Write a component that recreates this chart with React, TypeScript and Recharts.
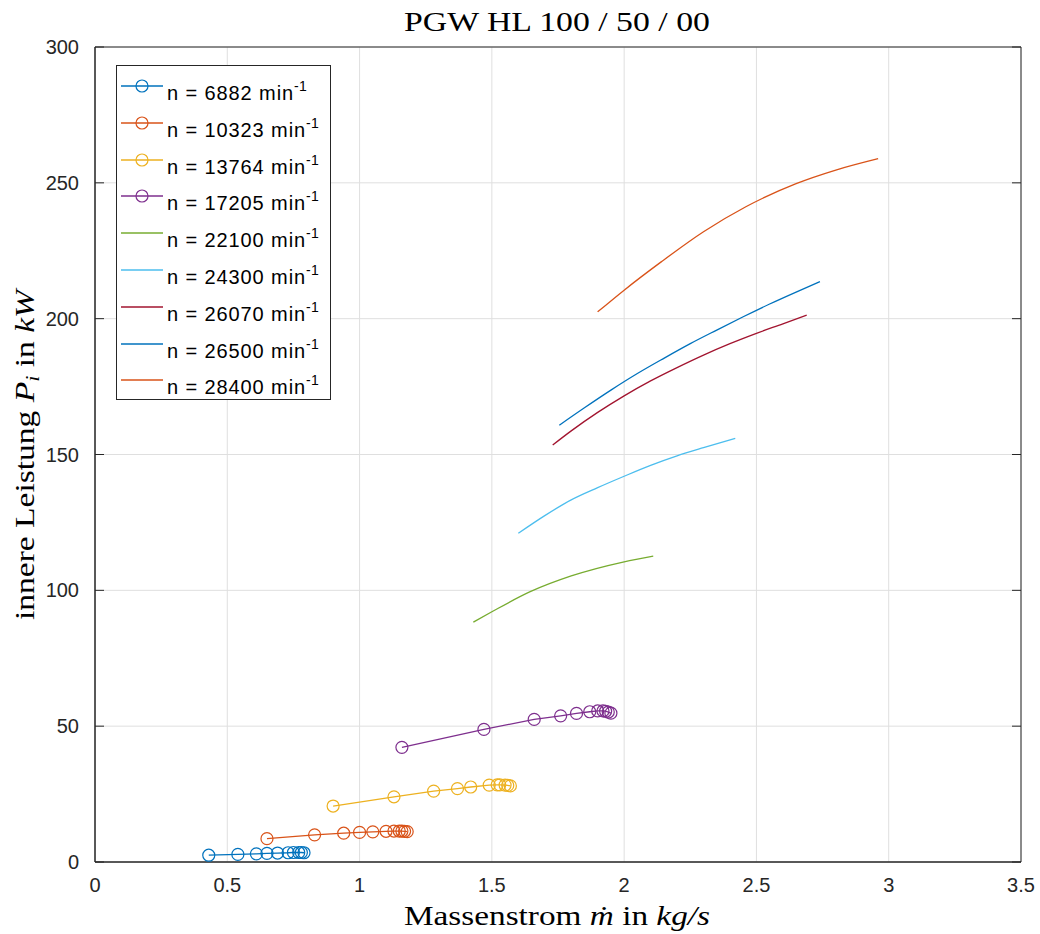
import { CartesianGrid, Legend, Line, LineChart, XAxis, YAxis } from "recharts";

// Massenstrom in kg/s, innere Leistung in kW
const xTicks = [0, 0.5, 1, 1.5, 2, 2.5, 3, 3.5];
const yTicks = [0, 50, 100, 150, 200, 250, 300];

const m6882 = [0.43, 0.54, 0.61, 0.65, 0.69, 0.73, 0.75, 0.77, 0.78, 0.79];
const p6882 = [2.5, 2.8, 3.0, 3.2, 3.3, 3.4, 3.5, 3.5, 3.5, 3.4];

const m10323 = [0.65, 0.83, 0.94, 1.0, 1.05, 1.1, 1.13, 1.15, 1.16, 1.17, 1.18];
const p10323 = [8.6, 10.0, 10.6, 10.9, 11.1, 11.3, 11.4, 11.4, 11.4, 11.3, 11.2];

const m13764 = [0.9, 1.13, 1.28, 1.37, 1.42, 1.49, 1.52, 1.53, 1.55, 1.56, 1.57];
const p13764 = [20.6, 24.0, 26.1, 27.0, 27.6, 28.3, 28.4, 28.4, 28.3, 28.2, 28.0];

const m17205 = [1.16, 1.47, 1.66, 1.76, 1.82, 1.87, 1.9, 1.92, 1.93, 1.94, 1.95];
const p17205 = [42.2, 48.8, 52.5, 53.8, 54.7, 55.3, 55.6, 55.6, 55.5, 55.2, 54.8];

const m22100 = [1.43, 1.5, 1.645, 1.8, 2.0, 2.11];
const p22100 = [88.3, 92.1, 99.5, 105.3, 110.5, 112.6];

const m24300 = [1.6, 1.7, 1.8, 1.9, 2.0, 2.1, 2.2, 2.3, 2.42];
const p24300 = [121, 127.5, 133.3, 137.8, 142, 146, 149.5, 152.5, 155.9];

const m26070 = [1.73, 1.8, 1.9, 2.0, 2.1, 2.2, 2.3, 2.4, 2.5, 2.6, 2.69];
const p26070 = [153.5, 158.7, 165.5, 171.6, 177.1, 182, 186.6, 190.8, 194.6, 198.1, 201.3];

const m26500 = [1.755, 1.85, 1.95, 2.05, 2.15, 2.25, 2.35, 2.45, 2.55, 2.65, 2.74];
const p26500 = [160.8, 167.2, 173.7, 179.8, 185.4, 190.8, 195.8, 200.7, 205.4, 209.8, 213.6];

const m28400 = [1.9, 2.0, 2.14, 2.3, 2.46, 2.65, 2.8, 2.96];
const p28400 = [202.5, 210.5, 220.9, 232, 241.2, 249.7, 254.7, 258.9];

const pts = (m: number[], p: number[]) => m.map((x, i) => ({ m: x, p: p[i] }));

const series = [
  { n: "6882", color: "#0072BD", marker: true, data: pts(m6882, p6882) },
  { n: "10323", color: "#D95319", marker: true, data: pts(m10323, p10323) },
  { n: "13764", color: "#EDB120", marker: true, data: pts(m13764, p13764) },
  { n: "17205", color: "#7E2F8E", marker: true, data: pts(m17205, p17205) },
  { n: "22100", color: "#77AC30", marker: false, data: pts(m22100, p22100) },
  { n: "24300", color: "#4DBEEE", marker: false, data: pts(m24300, p24300) },
  { n: "26070", color: "#A2142F", marker: false, data: pts(m26070, p26070) },
  { n: "26500", color: "#0072BD", marker: false, data: pts(m26500, p26500) },
  { n: "28400", color: "#D95319", marker: false, data: pts(m28400, p28400) },
];

const AX = "#262626";
const SANS = '"Liberation Sans", Arial, Helvetica, sans-serif';
const SERIF = '"Liberation Serif", "Times New Roman", serif';

function MatlabLegend() {
  return (
    <div
      style={{
        width: 215,
        height: 335,
        boxSizing: "border-box",
        border: `1px solid ${AX}`,
        background: "#fff",
        paddingTop: 1,
        fontFamily: SANS,
        color: "#000",
      }}
    >
      {series.map((s) => (
        <div key={s.n} style={{ height: 36.8, display: "flex", alignItems: "flex-start" }}>
          <svg width={50} height={36} style={{ flex: "none" }}>
            <line x1={4} x2={46} y1={19} y2={19} stroke={s.color} strokeWidth={1.3} />
            {s.marker && <circle cx={25} cy={19} r={6} fill="none" stroke={s.color} strokeWidth={1.2} />}
          </svg>
          <span style={{ fontSize: 20, lineHeight: "20px", paddingTop: 16, whiteSpace: "nowrap", letterSpacing: 0.9 }}>
            n = {s.n} min
            <span style={{ fontSize: 14, position: "relative", top: -9, letterSpacing: 0.3 }}>-1</span>
          </span>
        </div>
      ))}
    </div>
  );
}

function XLabel() {
  return (
    <text x={557} y={925} textAnchor="middle" fontFamily={SERIF} fontSize={27} fill="#000" textLength={306} lengthAdjust="spacingAndGlyphs">
      Massenstrom <tspan fontStyle="italic">ṁ</tspan> in <tspan fontStyle="italic">kg/s</tspan>
    </text>
  );
}

function YLabel() {
  return (
    <text
      x={0}
      y={0}
      transform="translate(34 455) rotate(-90)"
      textAnchor="middle"
      fontFamily={SERIF}
      fontSize={27}
      fill="#000"
      textLength={330}
      lengthAdjust="spacingAndGlyphs"
    >
      innere Leistung <tspan fontStyle="italic">P</tspan>
      <tspan fontStyle="italic" fontSize={18} dy={5}>i</tspan>
      <tspan dy={-5}> in </tspan>
      <tspan fontStyle="italic">kW</tspan>
    </text>
  );
}

export default function App() {
  const tickStyle = { fill: AX, fontSize: 20, fontFamily: SANS };
  const blank = () => "";
  return (
    <div style={{ position: "absolute", left: 0, top: 0, width: 1040, height: 934, background: "#fff" }}>
      <LineChart width={1040} height={934} margin={{ top: 47, right: 19, bottom: 42, left: 35 }}>
        <CartesianGrid stroke="#dfdfdf" strokeWidth={1} />
        <XAxis
          type="number"
          dataKey="m"
          domain={[0, 3.5]}
          ticks={xTicks}
          allowDataOverflow
          height={30}
          tickLine={false}
          tickMargin={10}
          stroke={AX}
          tick={tickStyle}
          tickFormatter={(v: number) => String(v)}
        />
        {/* inward tick marks on all four sides, MATLAB box style */}
        <XAxis xAxisId="bt" type="number" domain={[0, 3.5]} ticks={xTicks} allowDataOverflow
          height={1} mirror tickSize={9} stroke={AX} tickFormatter={blank} />
        <XAxis xAxisId="top" orientation="top" type="number" domain={[0, 3.5]} ticks={xTicks} allowDataOverflow
          height={1} mirror tickSize={9} stroke={AX} tickFormatter={blank} />
        <YAxis
          type="number"
          domain={[0, 300]}
          ticks={yTicks}
          allowDataOverflow
          width={60}
          tickLine={false}
          tickMargin={10}
          stroke={AX}
          tick={tickStyle}
        />
        <YAxis yAxisId="lt" type="number" domain={[0, 300]} ticks={yTicks} allowDataOverflow
          width={1} mirror tickSize={9} stroke={AX} tickFormatter={blank} />
        <YAxis yAxisId="right" orientation="right" type="number" domain={[0, 300]} ticks={yTicks} allowDataOverflow
          width={1} mirror tickSize={9} stroke={AX} tickFormatter={blank} />
        {series.map((s) => (
          <Line
            key={s.n}
            data={s.data}
            dataKey="p"
            type={s.marker ? "linear" : "monotone"}
            stroke={s.color}
            strokeWidth={1.3}
            dot={s.marker ? { r: 6, fill: "none", stroke: s.color, strokeWidth: 1.2 } : false}
            activeDot={false}
            isAnimationActive={false}
          />
        ))}
        <Legend
          content={<MatlabLegend />}
          layout="vertical"
          align="center"
          verticalAlign="middle"
          wrapperStyle={{ left: 116, top: 65, width: 215, height: 335 }}
        />
        <text x={557} y={31} textAnchor="middle" fontFamily={SERIF} fontSize={27} fill="#000" textLength={306} lengthAdjust="spacingAndGlyphs">
          PGW HL 100 / 50 / 00
        </text>
        <XLabel />
        <YLabel />
      </LineChart>
    </div>
  );
}
